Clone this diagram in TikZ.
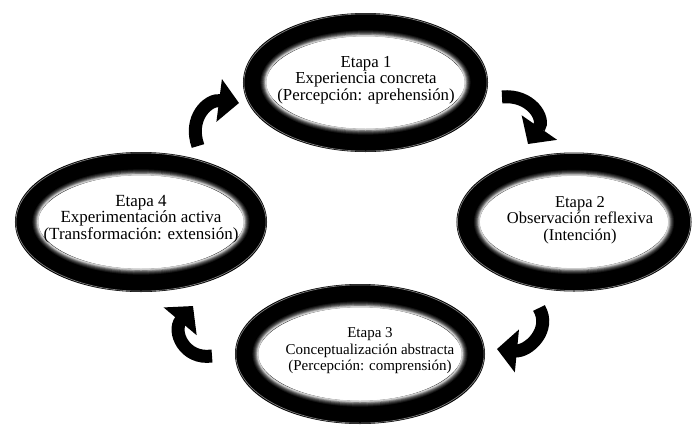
\documentclass[tikz,border=0pt]{standalone}
\usepackage{fontspec}
\setmainfont{Liberation Serif}
\usetikzlibrary{arrows.meta}

\tikzset{
  etapa/.style={align=center, inner sep=0pt, font=\fontsize{#1}{16.5}\selectfont},
  etapa/.default=16.5,
  anillo/.style={line width=23pt, black},
  flecha/.style={line width=13pt, -{Triangle[width=42pt,length=20pt]}},
}

% anillo negro con brillo en el borde interior
\newcommand{\dibujaranillo}[3]{%
  \draw[anillo] (#1) ellipse [x radius=#2, y radius=#3];
  \draw[black!50, line width=0.7pt] (#1) ellipse [x radius=#2+10.6, y radius=#3+10.6];
  \foreach \d/\g in {6.5/92, 7.5/82, 8.5/70, 9.5/55, 10.4/38, 11.2/20} {
    \draw[black!\g, line width=1.3pt] (#1) ellipse [x radius=#2-\d, y radius=#3-\d];
  }
}

\begin{document}
\begin{tikzpicture}[x=1pt, y=-1pt]
        \useasboundingbox (0,0) rectangle (694,432);

        \coordinate (c1) at (365.5,82.5);
        \coordinate (c2) at (574,222);
        \coordinate (c3) at (360,354);
        \coordinate (c4) at (141,222);

        \dibujaranillo{c1}{111}{58}
        \dibujaranillo{c2}{106}{58}
        \dibujaranillo{c3}{113.5}{58.5}
        \dibujaranillo{c4}{114.5}{58.5}

        \node[etapa=16.8] (e1) at (366,80) {Etapa 1\\Experiencia concreta\\(Percepción: aprehensión)};
        \node[etapa] (e2) at (580,220) {Etapa 2\\Observación reflexiva\\(Intención)};
        \node[etapa=15] (e3) at (370,351) {Etapa 3\\Conceptualización abstracta\\(Percepción: comprensión)};
        \node[etapa=17] (e4) at (141,219) {Etapa 4\\Experimentación activa\\(Transformación: extensión)};

        % flechas curvas
        \coordinate (f1a) at (502,97);
        \coordinate (f1b) at (528,144);
        \coordinate (f2a) at (539,308);
        \coordinate (f2b) at (497,349);
        \coordinate (f3a) at (212,356);
        \coordinate (f3b) at (193,306);
        \coordinate (f4a) at (198,146);
        \coordinate (f4b) at (239,103);

        \draw[flecha] (f1a) .. controls (530,94) and (546,118) .. (f1b);
        \draw[flecha] (f2a) .. controls (552,330) and (528,352) .. (f2b);
        \draw[flecha] (f3a) .. controls (184,360) and (172,331) .. (f3b);
        \draw[flecha] (f4a) .. controls (188,118) and (208,99) .. (f4b);
\end{tikzpicture}
\end{document}
